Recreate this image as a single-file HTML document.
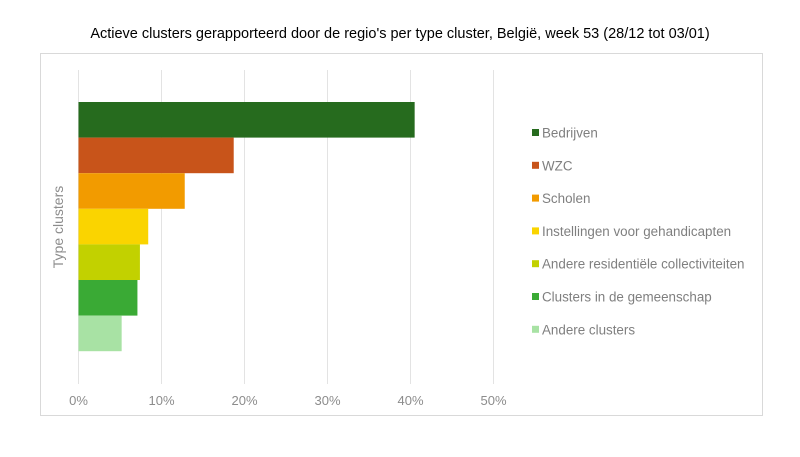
<!DOCTYPE html>
<html><head><meta charset="utf-8"><style>
body{margin:0;background:#fff;width:800px;height:452px;overflow:hidden;font-family:"Liberation Sans",Arial,sans-serif}
</style></head><body>
<svg width="800" height="452" xmlns="http://www.w3.org/2000/svg">
<text x="400" y="38" text-anchor="middle" font-size="14.5" fill="#000">Actieve clusters gerapporteerd door de regio's per type cluster, België, week 53 (28/12 tot 03/01)</text>
<rect x="40.5" y="53.5" width="722" height="362" fill="none" stroke="#d9d9d9"/>
<text transform="translate(63,227) rotate(-90)" text-anchor="middle" font-size="14" fill="#8c8c8c">Type clusters</text>
<g id="grid"></g><g id="bars"></g><g id="ticks"></g><g id="legend"></g>
</svg>
<script>
const categories=["Bedrijven","WZC","Scholen","Instellingen voor gehandicapten","Andere residentiële collectiviteiten","Clusters in de gemeenschap","Andere clusters"];
const values=[40.5,18.7,12.8,8.4,7.4,7.1,5.2];
const colors=["#266b1e","#c8541a","#f29b00","#fad400","#c2d100","#3aaa35","#a8e2a4"];
const tickValues=[0,10,20,30,40,50];
const tickLabels=["0%","10%","20%","30%","40%","50%"];
const NS="http://www.w3.org/2000/svg";
const x=v=>78.5+v*8.3;
const bandTop=102,bandH=35.6;
const y=i=>bandTop+i*bandH;
function mk(t,a,p){const e=document.createElementNS(NS,t);for(const k in a)e.setAttribute(k,a[k]);document.getElementById(p).appendChild(e);return e;}
tickValues.forEach((v,i)=>{
 const g=mk('line',{x1:x(v),x2:x(v),y1:70,y2:384,stroke:'#e3e3e3','stroke-width':1},'grid');
 
 
 const t=mk('text',{x:x(v),y:405,'text-anchor':'middle','font-size':13,fill:'#8c8c8c'},'ticks');
 t.textContent=tickLabels[i];
 
 
});
categories.forEach((c,i)=>{
 const r=mk('rect',{x:x(0),y:y(i),width:x(values[i])-x(0),height:bandH,fill:colors[i]},'bars');
 
 
 const ly=133+i*32.8;
 const s=mk('rect',{x:532,y:ly-4,width:7,height:7,fill:colors[i]},'legend');
 
 
 const t=mk('text',{x:542,y:ly+4.5,'font-size':13.4,fill:'#7f7f7f'},'legend');
 t.textContent=c;
 
 
});
</script>
</body></html>
